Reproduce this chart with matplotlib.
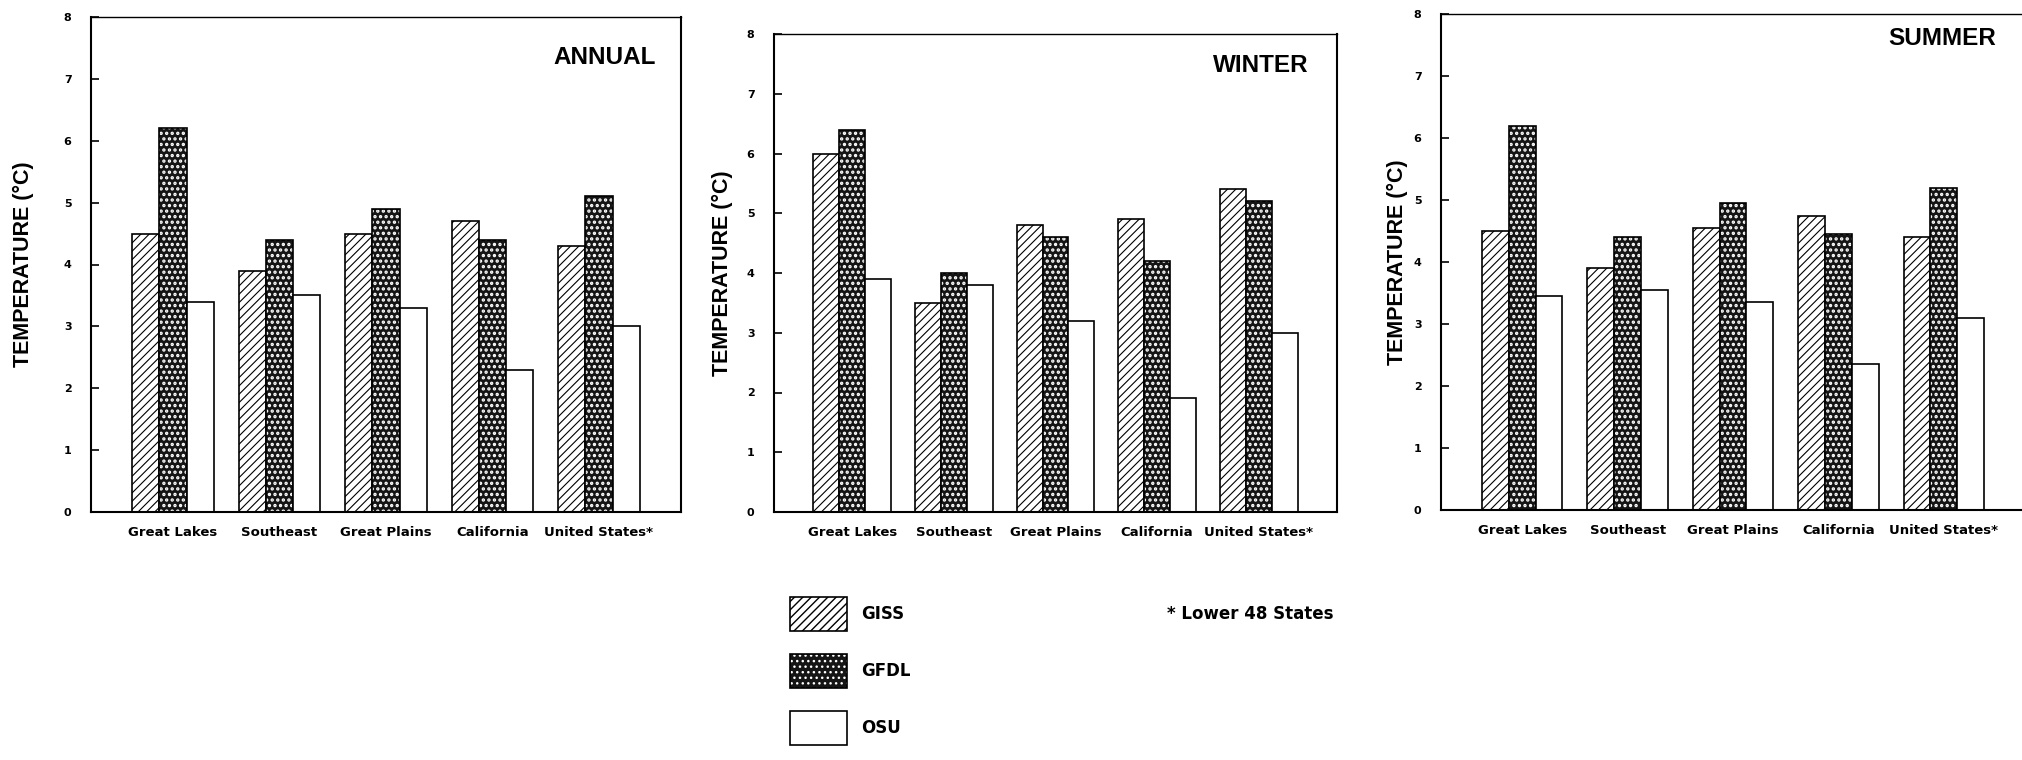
import numpy as np
import matplotlib
matplotlib.use('Agg')
import matplotlib.pyplot as plt

# Regional temperature change, three GCMs (GISS, GFDL, OSU)
regions = ['Great Lakes', 'Southeast', 'Great Plains', 'California', 'United States*']
models = ['GISS', 'GFDL', 'OSU']

annual_giss = [4.5, 3.9, 4.5, 4.7, 4.3]
annual_gfdl = [6.2, 4.4, 4.9, 4.4, 5.1]
annual_osu = [3.4, 3.5, 3.3, 2.3, 3.0]

winter_giss = [6.0, 3.5, 4.8, 4.9, 5.4]
winter_gfdl = [6.4, 4.0, 4.6, 4.2, 5.2]
winter_osu = [3.9, 3.8, 3.2, 1.9, 3.0]

summer_giss = [4.5, 3.9, 4.55, 4.75, 4.4]
summer_gfdl = [6.2, 4.4, 4.95, 4.45, 5.2]
summer_osu = [3.45, 3.55, 3.35, 2.35, 3.1]

yticks = [0, 1, 2, 3, 4, 5, 6, 7, 8]
footnote = '* Lower 48 States'

plt.rcParams['axes.linewidth'] = 1.5

W, H = 2022, 760
fig = plt.figure(figsize=(W / 100, H / 100), dpi=100)
fig.patch.set_facecolor('white')

narrow = ['Liberation Sans Narrow', 'Liberation Sans', 'DejaVu Sans']

panels = [
    ('ANNUAL', [annual_giss, annual_gfdl, annual_osu], [91, 512, 590, 495], -0.097, (0.958, 0.918)),
    ('WINTER', [winter_giss, winter_gfdl, winter_osu], [774, 512, 563, 478], -0.073, (0.949, 0.934)),
    ('SUMMER', [summer_giss, summer_gfdl, summer_osu], [1441, 510, 584, 496], -0.057, (0.950, 0.950)),
]

x = np.arange(len(regions))
w = 0.255

handles = None
for title, series, (left, bottom, width, height), ylab_x, (tx, ty) in panels:
    ax = fig.add_axes([left / W, (H - bottom) / H, width / W, height / H])
    giss, gfdl, osu = series

    # GISS: diagonal lines
    with plt.rc_context({'hatch.linewidth': 0.8}):
        b_giss = ax.bar(x - w, giss, width=w, facecolor='white', edgecolor='black',
                        linewidth=1.2, hatch='////')
    # GFDL: dark fill with white dots, then black outline on top
    with plt.rc_context({'hatch.color': 'white', 'hatch.linewidth': 1.6}):
        b_gfdl_fill = ax.bar(x, gfdl, width=w, facecolor='#151515', edgecolor=None,
                             linewidth=0, hatch='...')
    b_gfdl_edge = ax.bar(x, gfdl, width=w, fill=False, edgecolor='black', linewidth=1.2)
    # OSU: open bars
    b_osu = ax.bar(x + w, osu, width=w, facecolor='white', edgecolor='black', linewidth=1.2)

    if handles is None:
        handles = [b_giss, (b_gfdl_fill, b_gfdl_edge), b_osu]

    ax.set_xlim(-0.77, 4.77)
    ax.set_ylim(0, 8)
    ax.set_yticks(yticks)
    ax.set_yticklabels([str(t) for t in yticks], fontsize=8, fontweight='bold')
    ax.tick_params(axis='y', direction='in', length=6, width=1.2, pad=14)
    ax.set_xticks(x)
    ax.set_xticklabels(regions, fontsize=9.5, fontweight='bold')
    ax.tick_params(axis='x', length=0, pad=10)
    ax.set_ylabel('TEMPERATURE (°C)', fontsize=15.5, fontweight='bold', family=narrow)
    ax.yaxis.set_label_coords(ylab_x, 0.5)
    ax.spines['top'].set_linewidth(1.0)
    if title == 'SUMMER':
        ax.spines['right'].set_visible(False)
    ax.text(tx, ty, title, transform=ax.transAxes, ha='right', va='center',
            fontsize=17.5, fontweight='bold', family=narrow)

fig.legend(handles, models, loc='upper left', bbox_to_anchor=(790 / W, 1 - 597 / H),
           frameon=False, prop={'weight': 'bold', 'size': 12},
           handlelength=3.4, handleheight=2.76, labelspacing=1.38,
           handletextpad=0.85, borderpad=0, borderaxespad=0)

fig.text(1167 / W, 1 - 614 / H, footnote, fontsize=12, fontweight='bold', va='center')

fig.savefig('out.png', dpi=100, facecolor='white')
